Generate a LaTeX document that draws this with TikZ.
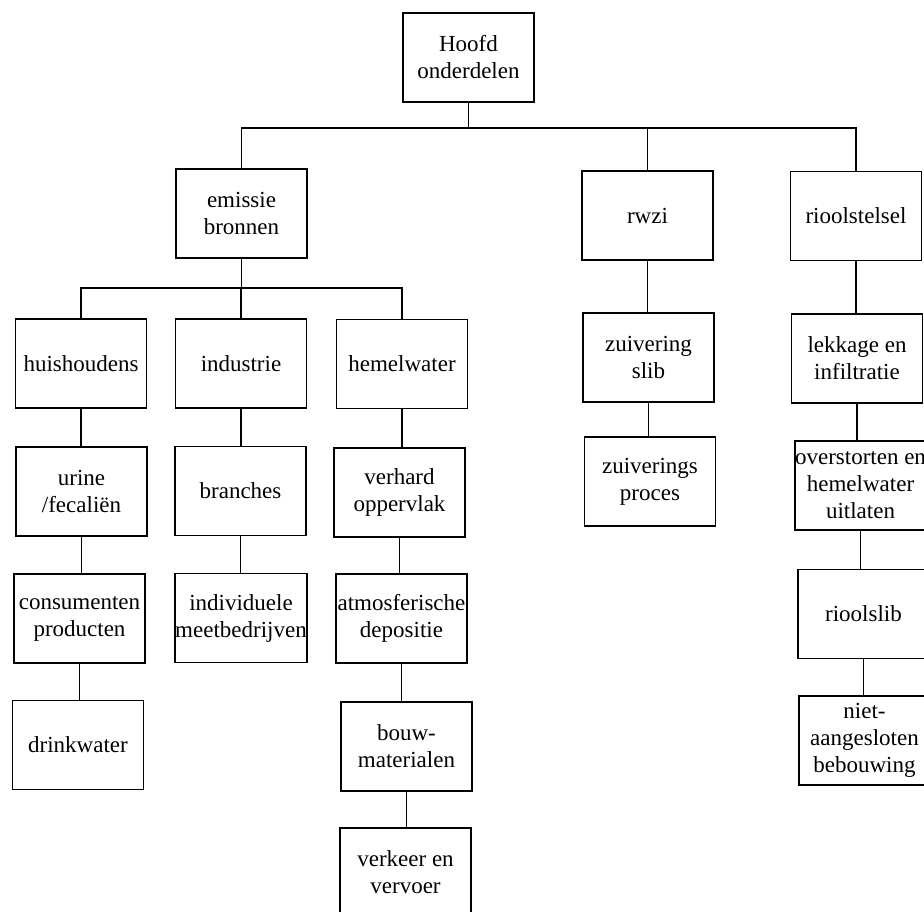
\documentclass[tikz,border=0pt]{standalone}
\usepackage{fontspec}
\setmainfont{Liberation Serif}
\begin{document}
\begin{tikzpicture}[x=1pt,y=-1pt,
  box/.style={draw, line width=1.8pt, minimum width=131pt, minimum height=89pt,
    inner sep=0pt, align=center, font=\fontsize{23}{27}\selectfont},
  link/.style={line width=1.4pt}]
\useasboundingbox (0,0) rectangle (924,912);
\clip (0,0) rectangle (924,912);

% top level
\node[box] (hoofd) at (468.5,57.5) {Hoofd\\onderdelen};
\node[box] (emissie) at (241.5,213.5) {emissie\\bronnen};
\node[box] (rwzi) at (647.5,215.5) {rwzi};
\node[box] (riool) at (856,216) {rioolstelsel};

% emission sources
\node[box] (huis) at (81,363.5) {huishoudens};
\node[box] (indus) at (241,363.5) {industrie};
\node[box] (hemel) at (402,364) {hemelwater};

\node[box] (urine) at (81.5,491.5) {urine\\/fecaliën};
\node[box] (branches) at (240.5,491) {branches};
\node[box] (verhard) at (399.5,492.5) {verhard\\oppervlak};

\node[box] (consum) at (79.5,618.5) {consumenten\\producten};
\node[box] (indiv) at (241,618) {individuele\\meetbedrijven};
\node[box] (atmos) at (401.5,618.5) {atmosferische\\depositie};

\node[box] (drink) at (78,745) {drinkwater};
\node[box] (bouw) at (406.5,746.5) {bouw-\\materialen};
\node[box] (verkeer) at (405.5,872.5) {verkeer en\\vervoer};

% treatment plant
\node[box] (zuiv) at (648.5,357.5) {zuivering\\slib};
\node[box] (zproc) at (650,481.5) {zuiverings\\proces};

% sewer system
\node[box] (lekk) at (857,358.5) {lekkage en\\infiltratie};
\node[box] (overst) at (860.5,485.5) {overstorten en\\hemelwater\\uitlaten};
\node[box] (rslib) at (863.5,614) {rioolslib};
\node[box] (niet) at (864.5,740.5) {niet-\\aangesloten\\bebouwing};

% buses
\coordinate (bus) at (470,128);
\coordinate (sub) at (240,288);

\draw[link] (hoofd.south) -- (hoofd.south |- bus);
\draw[link] (emissie.north) |- (bus) -| (riool.north);
\draw[link] (rwzi.north) -- (rwzi.north |- bus);

\draw[link] (emissie.south) -- (emissie.south |- sub);
\draw[link] (huis.north) |- (sub) -| (hemel.north);
\draw[link] (indus.north) -- (indus.north |- sub);

% chains
\foreach \a/\b in {huis/urine, urine/consum, consum/drink,
                   indus/branches, branches/indiv,
                   hemel/verhard, verhard/atmos, atmos/bouw, bouw/verkeer,
                   rwzi/zuiv, zuiv/zproc,
                   riool/lekk, lekk/overst, overst/rslib, rslib/niet}
  \draw[link] (\a.south) -- (\a.south |- \b.north);
\end{tikzpicture}
\end{document}
